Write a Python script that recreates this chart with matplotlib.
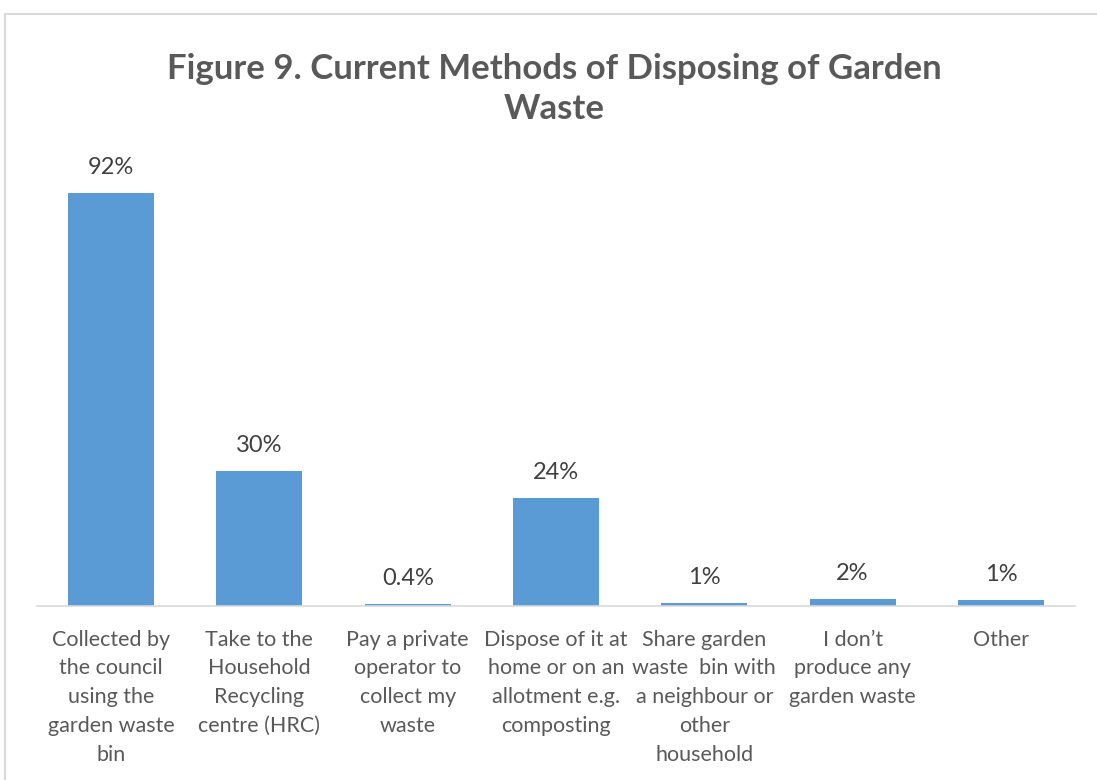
import matplotlib.pyplot as plt
from matplotlib.patches import Rectangle

categories = [
    "Collected by\nthe council\nusing the\ngarden waste\nbin",
    "Take to the\nHousehold\nRecycling\ncentre (HRC)",
    "Pay a private\noperator to\ncollect my\nwaste",
    "Dispose of it at\nhome or on an\nallotment e.g.\ncomposting",
    "Share garden\nwaste  bin with\na neighbour or\nother\nhousehold",
    "I don\u2019t\nproduce any\ngarden waste",
    "Other",
]
values = [92, 30, 0.4, 24, 0.7, 1.5, 1.3]
value_labels = ["92%", "30%", "0.4%", "24%", "1%", "2%", "1%"]

BAR = "#5B9BD5"
TXT = "#595959"
plt.rcParams["font.family"] = ["Lato", "DejaVu Sans"]

fig = plt.figure(figsize=(10.97, 7.80), dpi=100)
fig.patches.append(Rectangle((5 / 1097, -0.1), 1.2, 1 - 14 / 780 + 0.1,
                             transform=fig.transFigure, fill=False,
                             edgecolor="#D9D9D9", linewidth=1.5))

ax = fig.add_axes([37 / 1097, 1 - 606 / 780, (1075 - 37) / 1097, 0.575])
x = range(len(categories))
bars = ax.bar(x, values, width=0.58, color=BAR)
ax.set_xlim(-0.5, len(categories) - 0.5)
ax.set_ylim(0, 100)

for b, lab in zip(bars, value_labels):
    ax.annotate(lab, (b.get_x() + b.get_width() / 2, b.get_height()),
                xytext=(0, 11), textcoords="offset points",
                ha="center", va="bottom", fontsize=17, color="#404040")

ax.set_xticks(list(x))
ax.set_xticklabels(categories, fontsize=15.5, color=TXT, linespacing=1.55,
                   va="top")
ax.tick_params(axis="x", length=0, pad=17)
ax.set_yticks([])
for s in ["left", "right", "top"]:
    ax.spines[s].set_visible(False)
ax.spines["bottom"].set_color("#D9D9D9")
ax.spines["bottom"].set_linewidth(1.2)

fig.text(0.505, 1 - 89 / 780, "Figure 9. Current Methods of Disposing of Garden\nWaste",
         ha="center", va="center", fontsize=25, fontweight="bold", color=TXT,
         linespacing=1.32)

fig.savefig("out.png", dpi=100)
